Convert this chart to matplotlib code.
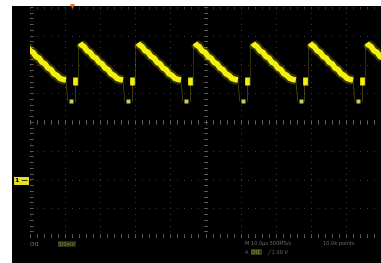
import numpy as np
import matplotlib
matplotlib.use("Agg")
import matplotlib.pyplot as plt
from matplotlib.patches import Rectangle

# ---- data (in screen divisions) ----
peak_times = [-0.20, 1.425, 3.077, 4.70, 6.35, 7.98, 9.60]
ramp_dt = [0.00, 0.04, 0.12, 0.20, 0.29, 0.37, 0.46, 0.54, 0.63, 0.71, 0.80, 0.88, 0.97, 1.05, 1.14, 1.225]
ramp_v = [2.75, 2.68, 2.62, 2.48, 2.42, 2.28, 2.22, 2.08, 2.02, 1.88, 1.82, 1.68, 1.62, 1.52, 1.48, 1.46]
dot_dt, dot_v = 1.37, 0.73
bar_dt, bar_lo, bar_hi = 1.49, 1.29, 1.57
rise_dt = 1.57
ch1_ground = -2.05
trigger_pos = 1.2
bottom_left = ["CH1", "500mV"]
bottom_right = ["M 10.0\u00b5s 500MS/s", "10.0k points", "A", "CH1", "\u2571 1.00 V"]

W, H = 381, 263
fig = plt.figure(figsize=(W / 100, H / 100), dpi=100, facecolor="white")
fig.patches.append(Rectangle((12 / W, 0), 1 - 12 / W, (H - 6) / H, transform=fig.transFigure,
                             facecolor="black", edgecolor="none", zorder=-5))

ax = fig.add_axes([30 / W, (H - 237) / H, (381 - 30) / W, (237 - 7) / H])
ax.set_zorder(2)
ax.set_facecolor("black")
ax.set_xlim(0, 10)
ax.set_ylim(-4, 4)
for s in ax.spines.values():
    s.set_visible(False)
ax.set_xticks([]); ax.set_yticks([])

# graticule
gcol = (0.25, 0.25, 0.25)
ccol = (0.50, 0.46, 0.46)
fine_x = np.arange(0, 10.001, 0.2)
fine_y = np.arange(-4, 4.001, 0.2)
for gx in range(0, 11):
    col = ccol if gx in (0, 5) else gcol
    ax.scatter(np.full_like(fine_y, gx), fine_y, s=0.6, color=col, linewidths=0, zorder=1)
for gy in range(-4, 5):
    col = ccol if gy in (0, -4) else gcol
    ax.scatter(fine_x, np.full_like(fine_x, gy), s=0.6, color=col, linewidths=0, zorder=1)
# ticks on center lines and edges
for xx in fine_x:
    ax.plot([xx, xx], [-0.06, 0.06], color=ccol, lw=0.5, zorder=1)
    ax.plot([xx, xx], [-4, -3.9], color=ccol, lw=0.5, zorder=1)
    ax.plot([xx, xx], [3.92, 4], color=gcol, lw=0.5, zorder=1)
for yy in fine_y:
    ax.plot([4.95, 5.05], [yy, yy], color=ccol, lw=0.5, zorder=1)
    ax.plot([0, 0.08], [yy, yy], color=ccol, lw=0.5, zorder=1)

yel = "#f4f010"
for p in peak_times:
    xs = [p + d for d in ramp_dt]
    ax.plot(xs, ramp_v, color=yel, lw=7, alpha=0.22, solid_capstyle="butt", zorder=3)
    ax.plot(xs, ramp_v, color=yel, lw=4.0, solid_joinstyle="miter", solid_capstyle="butt", zorder=4)
    # faint transitions
    ax.plot([p + ramp_dt[-1], p + ramp_dt[-1] + 0.05], [ramp_v[-1], dot_v], color=yel, lw=0.6, alpha=0.3, zorder=3)
    ax.plot([p + bar_dt - 0.02, p + bar_dt - 0.02], [dot_v, bar_lo], color=yel, lw=0.6, alpha=0.3, zorder=3)
    ax.plot([p + rise_dt, p + rise_dt], [bar_lo, ramp_v[0]], color=yel, lw=0.6, alpha=0.25, zorder=3)
    # dot and bar
    ax.plot([p + dot_dt], [dot_v], marker="s", ms=3.2, color="#e8e070", mec="none", alpha=0.9, zorder=4)
    ax.plot([p + bar_dt, p + bar_dt], [bar_lo, bar_hi], color=yel, lw=3.4, solid_capstyle="butt", zorder=4)

# channel 1 ground marker
ax.text(-0.05, ch1_ground, "1 \u2014", ha="right", va="center", fontsize=4.5, color="black",
        fontweight="bold", clip_on=False,
        bbox=dict(boxstyle="square,pad=0.2", facecolor="#e6e020", edgecolor="none"))
# trigger position marker
ax.plot([trigger_pos], [4.02], marker="v", ms=3.5, color="#e06a20", mec="none", clip_on=False, zorder=5)

def fx(px):
    return px / W
def fy(py):
    return 1 - py / H

fig.text(fx(30), fy(244), bottom_left[0], fontsize=3.6, color="#8a8a3a", va="center", ha="left")
fig.text(fx(58), fy(244), bottom_left[1], fontsize=3.6, color="#9a9440", va="center", ha="left",
         bbox=dict(boxstyle="square,pad=0.1", facecolor="#2a2a10", edgecolor="none"))
fig.text(fx(245), fy(244), bottom_right[0], fontsize=3.6, color="#707070", va="center", ha="left")
fig.text(fx(323), fy(244), bottom_right[1], fontsize=3.6, color="#707070", va="center", ha="left")
fig.text(fx(245), fy(252), bottom_right[2], fontsize=3.6, color="#707070", va="center", ha="left")
fig.text(fx(251), fy(252), bottom_right[3], fontsize=3.6, color="#a09a30", va="center", ha="left",
         bbox=dict(boxstyle="square,pad=0.1", facecolor="#3a3810", edgecolor="none"))
fig.text(fx(267), fy(252), bottom_right[4], fontsize=3.6, color="#707070", va="center", ha="left")

fig.savefig("out.png", dpi=100, facecolor="white")
